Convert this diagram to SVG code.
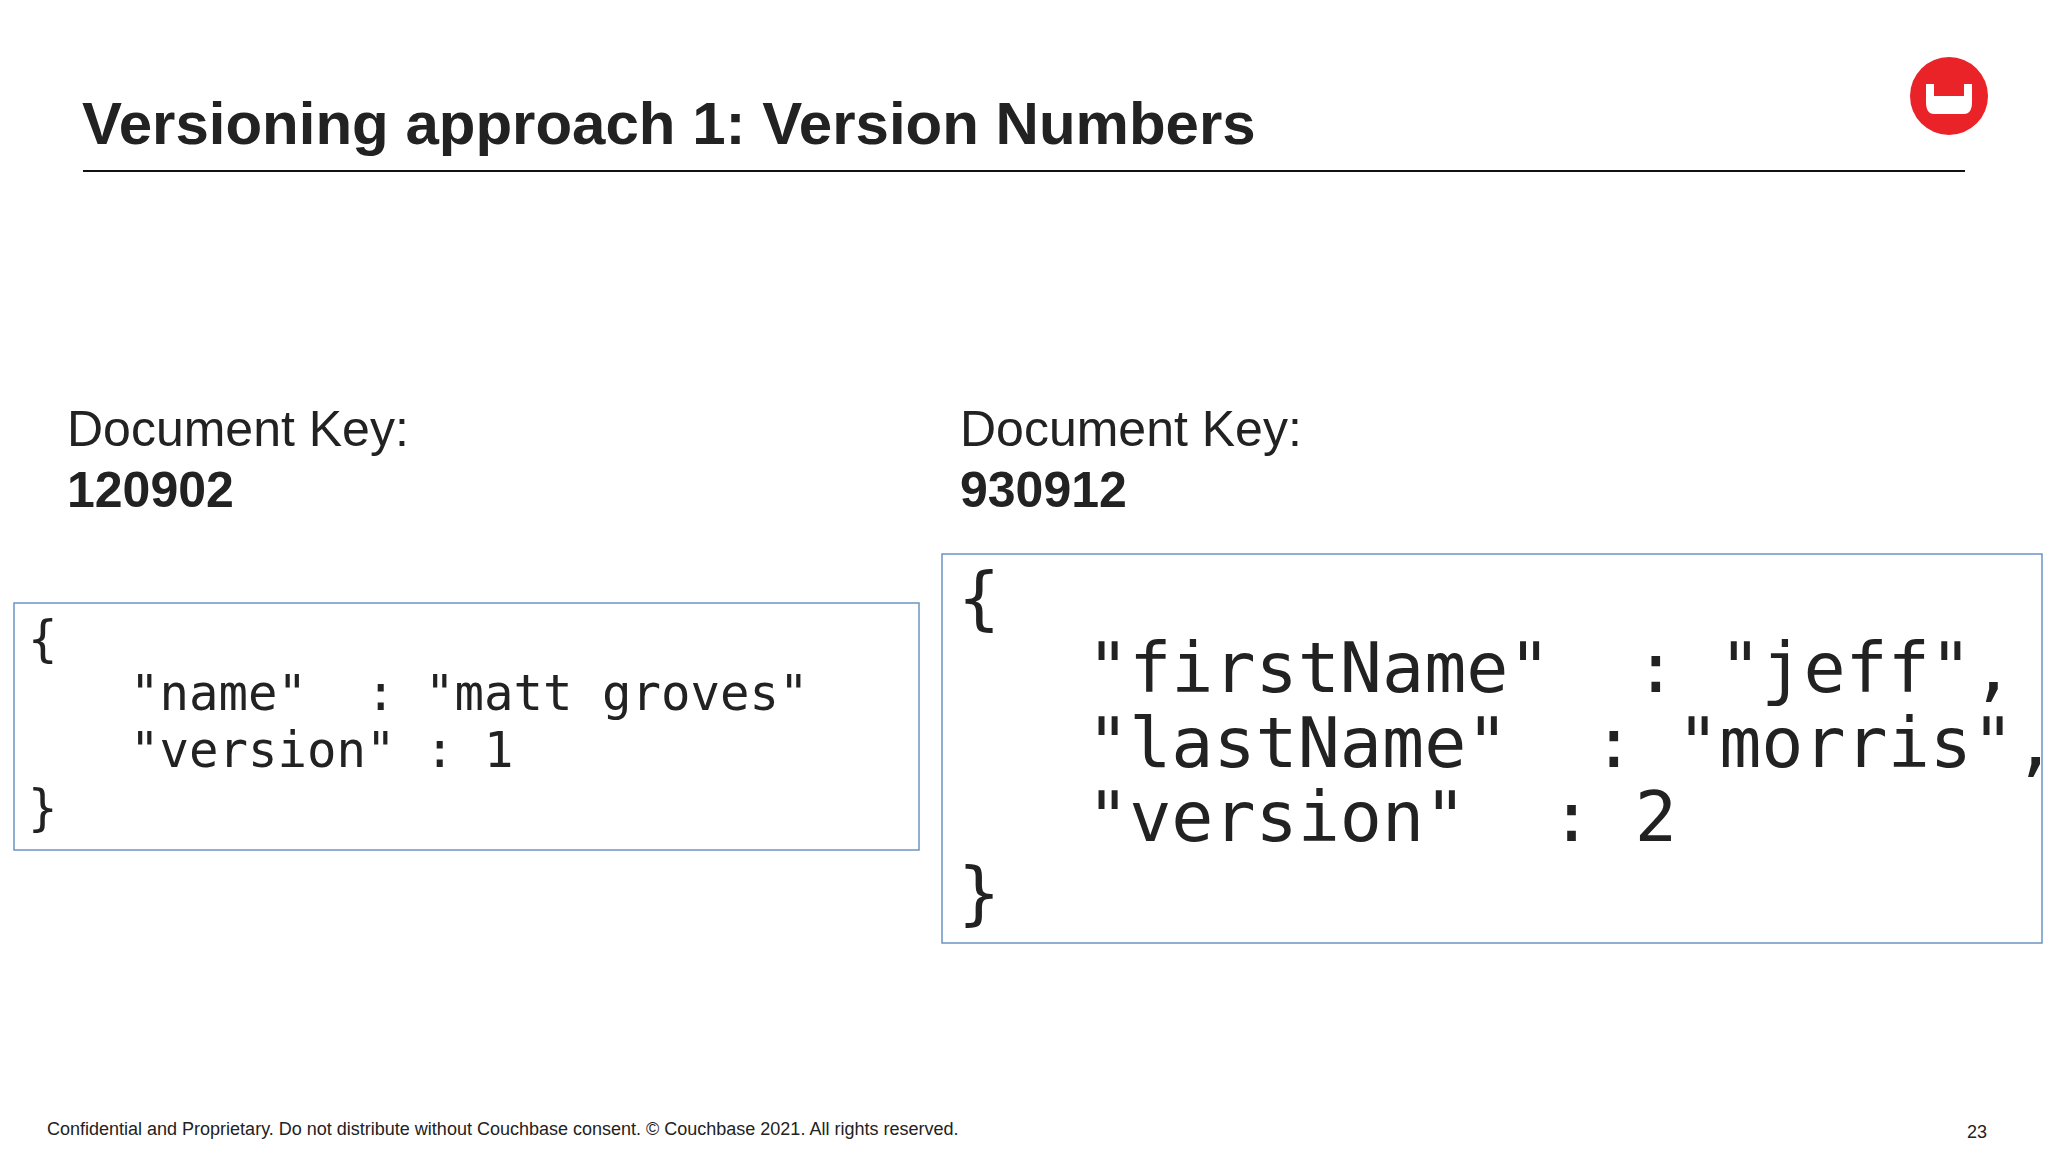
<svg xmlns="http://www.w3.org/2000/svg" width="2048" height="1152" viewBox="0 0 2048 1152">
<style>
.t{font-family:"Liberation Sans",Arial,sans-serif;fill:#222}
.m{font-family:"DejaVu Sans Mono",monospace;fill:#222;white-space:pre}
.b{fill:#fff;stroke:#6c93c4;stroke-width:1.5}
</style>
<rect width="2048" height="1152" fill="#fff"/>
<g id="title"><text class="t" x="82" y="144" font-size="60" font-weight="700">Versioning approach 1: Version Numbers</text>
<line x1="83" y1="171" x2="1965" y2="171" stroke="#111" stroke-width="2"/></g>
<g id="logo"><circle cx="1949" cy="96" r="39" fill="#ea2328"/><path d="M1926 84h8v12h30v-12h8v18q0 12-8 12h-30q-8 0-8-12z" fill="#fff"/></g>
<g id="left-key"><text class="t" x="67" y="446" font-size="50">Document Key:</text><text class="t" x="67" y="507" font-size="50" font-weight="700">120902</text></g>
<g id="right-key"><text class="t" x="960" y="446" font-size="50">Document Key:</text><text class="t" x="960" y="507" font-size="50" font-weight="700">930912</text></g>
<g id="left-doc"><rect class="b" x="14" y="603" width="905" height="247"/>
<text class="m" x="28" y="656" font-size="49">{</text>
<text class="m" x="130" y="710" font-size="49">"name"  : "matt groves"</text>
<text class="m" x="130" y="767" font-size="49">"version" : 1</text>
<text class="m" x="28" y="825" font-size="49">}</text></g>
<g id="right-doc"><rect class="b" x="942" y="554" width="1100" height="389"/>
<text class="m" x="958" y="622" font-size="70">{</text>
<text class="m" x="1087" y="692" font-size="70">"firstName"  : "jeff",</text>
<text class="m" x="1087" y="767" font-size="70">"lastName"  : "morris",</text>
<text class="m" x="1087" y="841" font-size="70">"version"  : 2</text>
<text class="m" x="958" y="917" font-size="70">}</text></g>
<g id="footer"><text class="t" x="47" y="1135" font-size="18">Confidential and Proprietary. Do not distribute without Couchbase consent. © Couchbase 2021. All rights reserved.</text>
<text class="t" x="1967" y="1138" font-size="18">23</text></g>
</svg>
